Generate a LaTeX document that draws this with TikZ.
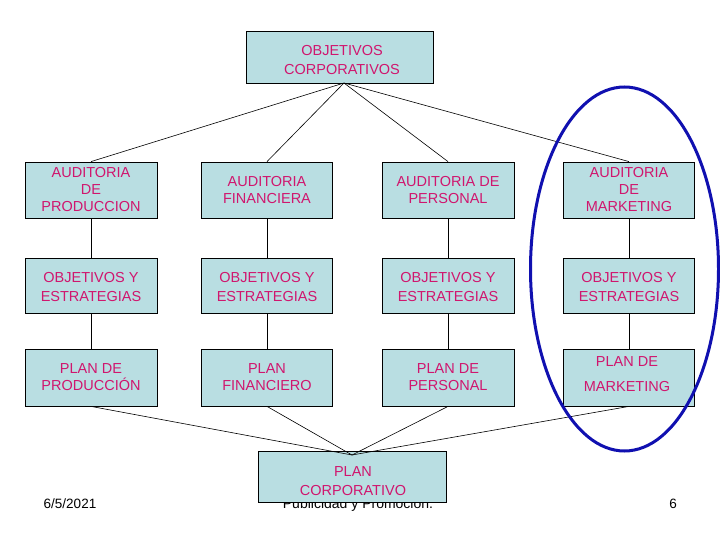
\documentclass[tikz,border=0pt]{standalone}
\usepackage{fontspec}
\setmainfont{Liberation Sans}
\usetikzlibrary{calc}
\definecolor{boxfill}{RGB}{185,222,226}
\definecolor{txtpink}{RGB}{208,22,110}
\definecolor{ringblue}{RGB}{16,16,176}
\tikzset{
  box/.style={draw=black, line width=0.8pt, fill=boxfill, inner sep=0pt},
  rowbox/.style={box, minimum width=131pt, minimum height=56pt},
  txt/.style={align=center, text=txtpink, inner sep=0pt, font=\fontsize{14.5}{17}\selectfont},
  txtwide/.style={txt, font=\fontsize{14.5}{19}\selectfont},
  conn/.style={draw=black, line width=0.6pt},
  foot/.style={inner sep=0pt, anchor=base, font=\fontsize{13.5}{16}\selectfont}
}
\begin{document}
\begin{tikzpicture}[x=1pt, y=-1pt]
\useasboundingbox (0,0) rectangle (720,540);
\fill[white] (0,0) rectangle (720,540);

% text partly hidden behind bottom box
\node[foot, font=\fontsize{14}{16}\selectfont] (pub) at (358,508) {Publicidad y Promoción.};
\node[foot] (date) at (70,508) {6/5/2021};
\node[foot] (page) at (673,508) {6};

% top box
\node[box, minimum width=187pt, minimum height=52pt] (top) at (339.5,57) {};
\node[txt, font=\fontsize{14.5}{18.3}\selectfont] (topt) at (342,60) {OBJETIVOS\\CORPORATIVOS};

% row 1
\node[rowbox, minimum width=132pt] (a1) at (91,190) {};
\node[txt] at (a1.center) (a1t) {AUDITORIA\\DE\\PRODUCCION};
\node[rowbox] (b1) at (267,190) {};
\node[txt] at (b1.center) (b1t) {AUDITORIA\\FINANCIERA};
\node[rowbox, minimum width=132pt] (c1) at (448,190) {};
\node[txt] at (c1.center) (c1t) {AUDITORIA DE\\PERSONAL};
\node[rowbox] (d1) at (629,190) {};
\node[txt] at (d1.center) (d1t) {AUDITORIA\\DE\\MARKETING};

% row 2
\node[rowbox, minimum width=132pt, minimum height=55pt] (a2) at (91,285.5) {};
\node[txtwide] (a2t) at (91,287.5) {OBJETIVOS Y\\ESTRATEGIAS};
\node[rowbox, minimum height=55pt] (b2) at (267,285.5) {};
\node[txtwide] (b2t) at (267,287.5) {OBJETIVOS Y\\ESTRATEGIAS};
\node[rowbox, minimum width=132pt, minimum height=55pt] (c2) at (448,285.5) {};
\node[txtwide] (c2t) at (448,287.5) {OBJETIVOS Y\\ESTRATEGIAS};
\node[rowbox, minimum height=55pt] (d2) at (629,285.5) {};
\node[txtwide] (d2t) at (629,287.5) {OBJETIVOS Y\\ESTRATEGIAS};

% row 3
\node[rowbox, minimum width=132pt, minimum height=57pt] (a3) at (91,377.5) {};
\node[txt] at (a3.center) (a3t) {PLAN DE\\PRODUCCIÓN};
\node[rowbox, minimum height=57pt] (b3) at (267,377.5) {};
\node[txt] at (b3.center) (b3t) {PLAN\\FINANCIERO};
\node[rowbox, minimum width=132pt, minimum height=57pt] (c3) at (448,377.5) {};
\node[txt] at (c3.center) (c3t) {PLAN DE\\PERSONAL};
\node[rowbox, minimum height=57pt] (d3) at (629,377.5) {};
\node[txt, font=\fontsize{14.5}{25}\selectfont] (d3t) at (627,374.5) {PLAN DE\\MARKETING};

% bottom box
\node[box, minimum width=188pt, minimum height=51pt] (bot) at (352,476.5) {};
\node[txt, font=\fontsize{14.5}{18.3}\selectfont] (bott) at (353,481) {PLAN\\CORPORATIVO};

% connectors
\coordinate (tp) at (344,83);
\coordinate (bp) at (352,455);
\foreach \n in {a1,b1,c1,d1}{\draw[conn] (tp) -- (\n.north);}
\foreach \c in {a,b,c,d}{
  \draw[conn] (\c1.south) -- (\c2.north);
  \draw[conn] (\c2.south) -- (\c3.north);
  \draw[conn] (\c3.south) -- (bp);
}

% highlight ring
\draw[ringblue, line width=3pt] (624.5,269) ellipse [x radius=94, y radius=182];
\end{tikzpicture}
\end{document}
